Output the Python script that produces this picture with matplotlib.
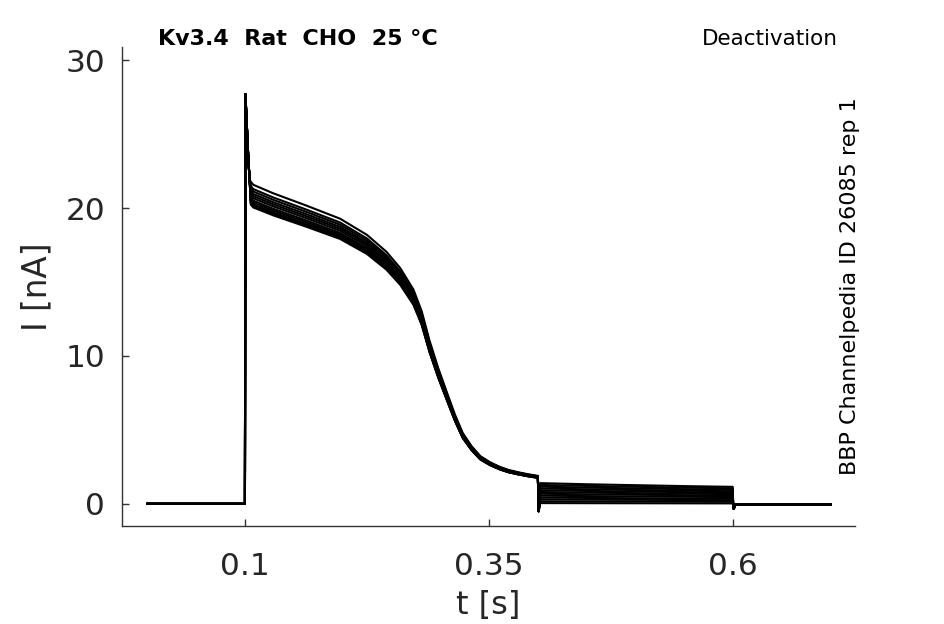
import numpy as np
import matplotlib
matplotlib.use("Agg")
import matplotlib.pyplot as plt

# ---- data ----
t_hold = [0.0, 0.1]                      # holding segment [s]
t_peak = [0.1, 0.1005, 0.102, 0.1035, 0.1048]
i_peak = [0.0, 27.7, 25.5, 23.3, 21.9]
t_step = [0.106, 0.1086, 0.129, 0.163, 0.1975, 0.225, 0.245, 0.259, 0.2726,
          0.281, 0.289, 0.298, 0.307, 0.315, 0.323, 0.332, 0.341, 0.351,
          0.361, 0.37, 0.38, 0.39, 0.3995]
i_step = [20.9, 20.7, 20.15, 19.35, 18.5, 17.45, 16.35, 15.3, 13.9,
          12.5, 10.6, 8.8, 7.2, 5.8, 4.6, 3.75, 3.1, 2.7,
          2.4, 2.2, 2.05, 1.92, 1.82]
trace_gain = [1.042, 1.028, 1.02, 1.012, 1.005, 0.998, 0.99, 0.984,
              0.978, 0.972, 0.968, 0.975]
t_tail = [0.4, 0.4008, 0.4025, 0.45, 0.5, 0.55, 0.5995]
tail_start = [1.40, 1.28, 1.16, 1.04, 0.92, 0.80, 0.68, 0.55, 0.42, 0.30, 0.17, 0.05]
tail_end = [1.15, 1.05, 0.95, 0.85, 0.76, 0.66, 0.56, 0.46, 0.35, 0.25, 0.14, 0.03]
t_end = [0.6, 0.6006, 0.602, 0.7]
i_end = [-0.05, -0.35, -0.05, -0.05]

xticks = [0.1, 0.35, 0.6]
yticks = [0, 10, 20, 30]

fig = plt.figure(figsize=(9.45, 6.24), dpi=100)
ax = fig.add_axes([0.129, 0.157, 0.776, 0.768])

for k, g in enumerate(trace_gain):
    s, e = tail_start[k], tail_end[k]
    t = (t_hold + t_peak + t_step + t_tail + t_end)
    i = ([0.0, 0.0] + i_peak + [v * g for v in i_step]
         + [i_step[-1] * g, -0.5, s, s + (e - s) * 0.3, s + (e - s) * 0.55,
            s + (e - s) * 0.8, e]
         + i_end)
    ax.plot(t, i, color="black", lw=1.5, solid_joinstyle="round")

ax.set_xlim(-0.026, 0.725)
ax.set_ylim(-1.5, 30.9)
ax.set_xticks(xticks)
ax.set_xticklabels([str(v) for v in xticks])
ax.set_yticks(yticks)

for sp in ["top", "right"]:
    ax.spines[sp].set_visible(False)
for sp in ["left", "bottom"]:
    ax.spines[sp].set_color("#333333")
    ax.spines[sp].set_linewidth(1.0)
ax.tick_params(direction="in", length=5, width=1, colors="#333333",
               labelsize=22.5, labelcolor="#262626")
ax.tick_params(axis="x", pad=19)
ax.tick_params(axis="y", pad=12)

ax.set_xlabel("t [s]", fontsize=23, color="#262626", labelpad=6)
ax.set_ylabel("I [nA]", fontsize=23.5, color="#262626", labelpad=9)

ax.text(0.049, 1.017, "Kv3.4  Rat  CHO  25 °C", transform=ax.transAxes,
        fontsize=16, fontweight="bold", ha="left", va="center")
ax.text(0.977, 1.017, "Deactivation", transform=ax.transAxes,
        fontsize=15.5, ha="right", va="center")
ax.text(0.993, 0.5, "BBP Channelpedia ID 26085 rep 1", transform=ax.transAxes,
        fontsize=16, rotation=90, ha="center", va="center")

fig.savefig("out.png", dpi=100)
